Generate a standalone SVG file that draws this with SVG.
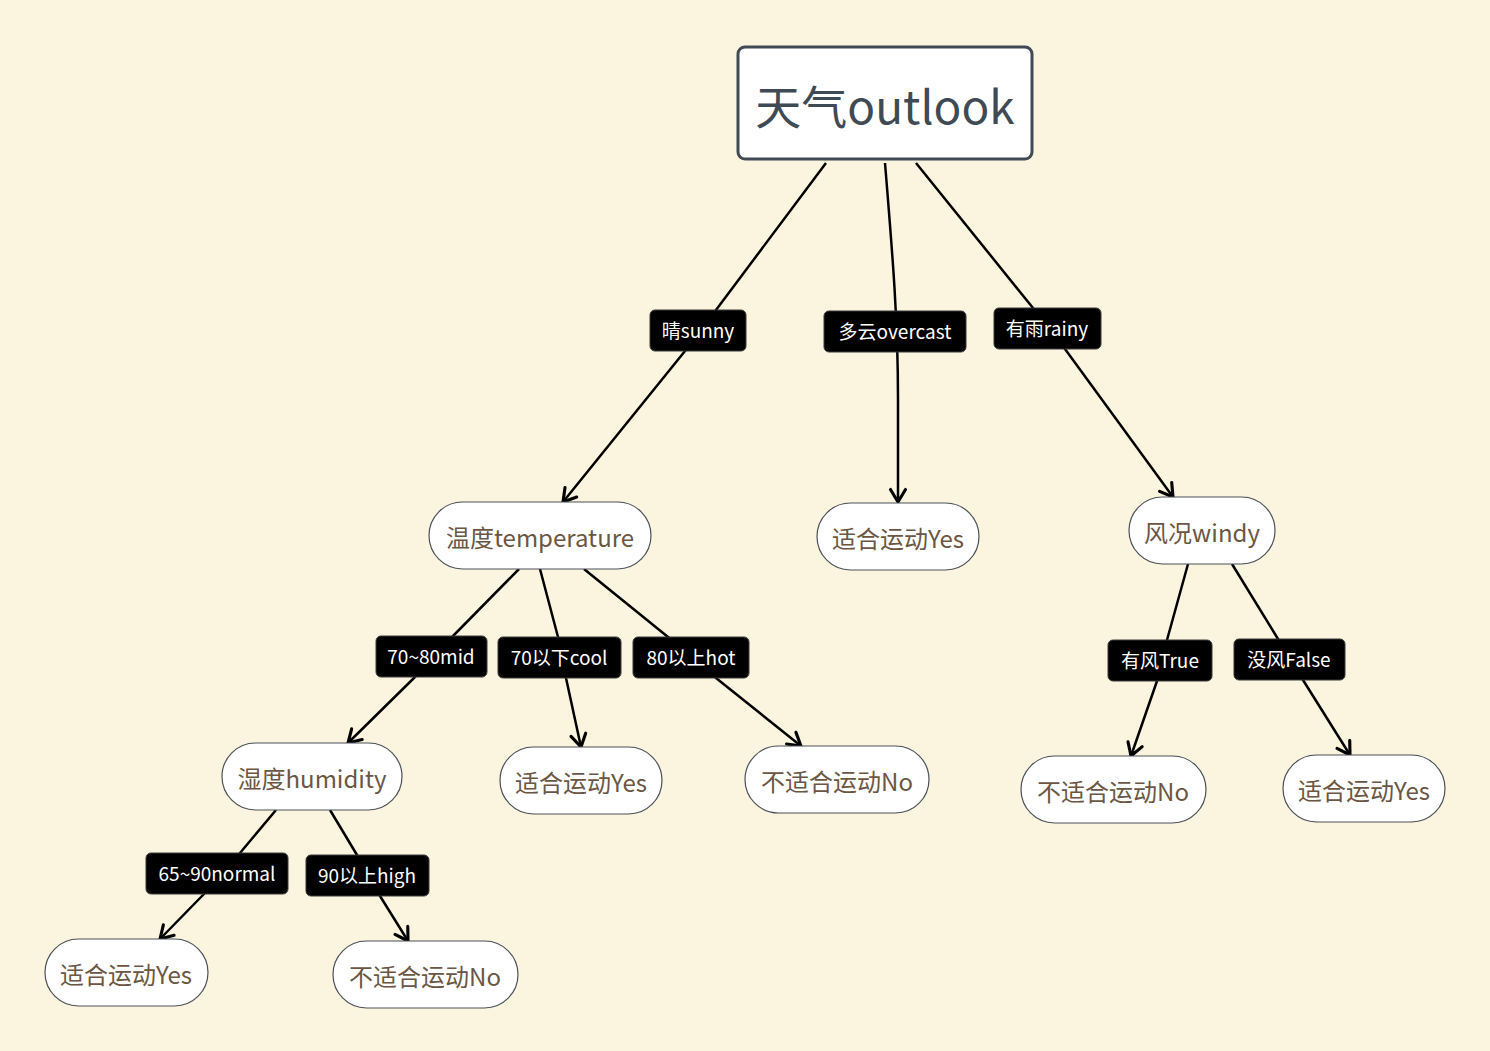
<svg xmlns="http://www.w3.org/2000/svg" width="1490" height="1051" viewBox="0 0 1490 1051">
<defs>
<marker id="arr" markerUnits="userSpaceOnUse" markerWidth="20" markerHeight="20" viewBox="-12 -8 14 16" refX="0" refY="0" orient="auto">
<path d="M-10,-6 L0,0 L-10,6" fill="none" stroke="#000" stroke-width="2.5" stroke-linecap="round" stroke-linejoin="round"/>
</marker>
</defs>
<style>
.bg{fill:#FBF4DE}
.root{fill:#fff;stroke:#404A54;stroke-width:3}
.roott{fill:#3F4A54;font-family:"Noto Sans CJK SC","Noto Sans",sans-serif;font-size:46px;text-anchor:middle}
.node{fill:#fff;stroke:#4A5058;stroke-width:1.2}
.nt{fill:#6B5643;font-family:"Noto Sans CJK SC","Noto Sans",sans-serif;font-size:24px;text-anchor:middle}
.lab{fill:#000;stroke:#3a3a3a;stroke-width:1}
.lt{fill:#fff;font-family:"Noto Sans CJK SC","Noto Sans",sans-serif;font-size:19px;text-anchor:middle}
.c{fill:none;stroke:#000;stroke-width:2.5;stroke-linejoin:round}
</style>
<rect class="bg" x="0" y="0" width="1490" height="1051"/>
<g id="connectors">
<path class="c" d="M826,163 L716,310 L685,351 L563,502" marker-end="url(#arr)"/>
<path class="c" d="M885,163 C893,260 898,320 898,400 L898,502" marker-end="url(#arr)"/>
<path class="c" d="M916,163 L1033,308 L1065,349 L1173,497" marker-end="url(#arr)"/>
<path class="c" d="M519,569 L453,636 L415,677 L348,743" marker-end="url(#arr)"/>
<path class="c" d="M540,569 L558,637 L566,678 L581,747" marker-end="url(#arr)"/>
<path class="c" d="M584,569 L668,637 L716,678 L801,746" marker-end="url(#arr)"/>
<path class="c" d="M1188,564 L1167,640 L1157,681 L1131,756" marker-end="url(#arr)"/>
<path class="c" d="M1232,564 L1278,639 L1303,680 L1350,755" marker-end="url(#arr)"/>
<path class="c" d="M276,810 L240,853 L203,895 L160,939" marker-end="url(#arr)"/>
<path class="c" d="M330,810 L357,855 L380,896 L408,941" marker-end="url(#arr)"/>
</g>
<g id="edge-labels">
<g id="l-sunny"><rect class="lab" x="650" y="310" width="96" height="41" rx="5"/><text class="lt" x="698" y="338">晴sunny</text></g>
<g id="l-overcast"><rect class="lab" x="824" y="311" width="142" height="41" rx="5"/><text class="lt" x="895" y="339">多云overcast</text></g>
<g id="l-rainy"><rect class="lab" x="994" y="308" width="107" height="41" rx="5"/><text class="lt" x="1047" y="336">有雨rainy</text></g>
<g id="l-mid"><rect class="lab" x="376" y="636" width="111" height="41" rx="5"/><text class="lt" x="431" y="664">70~80mid</text></g>
<g id="l-cool"><rect class="lab" x="498" y="637" width="123" height="41" rx="5"/><text class="lt" x="559" y="665">70以下cool</text></g>
<g id="l-hot"><rect class="lab" x="633" y="637" width="116" height="41" rx="5"/><text class="lt" x="691" y="665">80以上hot</text></g>
<g id="l-true"><rect class="lab" x="1108" y="640" width="104" height="41" rx="5"/><text class="lt" x="1160" y="668">有风True</text></g>
<g id="l-false"><rect class="lab" x="1234" y="639" width="111" height="41" rx="5"/><text class="lt" x="1289" y="667">没风False</text></g>
<g id="l-normal"><rect class="lab" x="146" y="853" width="142" height="41" rx="5"/><text class="lt" x="217" y="881">65~90normal</text></g>
<g id="l-high"><rect class="lab" x="306" y="855" width="123" height="41" rx="5"/><text class="lt" x="367" y="883">90以上high</text></g>
</g>
<g id="root"><rect class="root" x="738" y="47" width="294" height="112" rx="7"/><text class="roott" x="885" y="124">天气outlook</text></g>
<g id="temperature"><rect class="node" x="429" y="502" width="222" height="67" rx="33.5"/><text class="nt" x="540" y="547">温度temperature</text></g>
<g id="yes-overcast"><rect class="node" x="817" y="503" width="162" height="67" rx="33.5"/><text class="nt" x="898" y="548">适合运动Yes</text></g>
<g id="windy"><rect class="node" x="1129" y="497" width="146" height="67" rx="33.5"/><text class="nt" x="1202" y="542">风况windy</text></g>
<g id="humidity"><rect class="node" x="222" y="743" width="180" height="67" rx="33.5"/><text class="nt" x="312" y="788">湿度humidity</text></g>
<g id="yes-cool"><rect class="node" x="500" y="747" width="162" height="67" rx="33.5"/><text class="nt" x="581" y="792">适合运动Yes</text></g>
<g id="no-hot"><rect class="node" x="745" y="746" width="184" height="67" rx="33.5"/><text class="nt" x="837" y="791">不适合运动No</text></g>
<g id="no-true"><rect class="node" x="1021" y="756" width="185" height="67" rx="33.5"/><text class="nt" x="1113" y="801">不适合运动No</text></g>
<g id="yes-false"><rect class="node" x="1283" y="755" width="162" height="67" rx="33.5"/><text class="nt" x="1364" y="800">适合运动Yes</text></g>
<g id="yes-normal"><rect class="node" x="45" y="939" width="163" height="67" rx="33.5"/><text class="nt" x="126" y="984">适合运动Yes</text></g>
<g id="no-high"><rect class="node" x="333" y="941" width="185" height="67" rx="33.5"/><text class="nt" x="425" y="986">不适合运动No</text></g>
</svg>
